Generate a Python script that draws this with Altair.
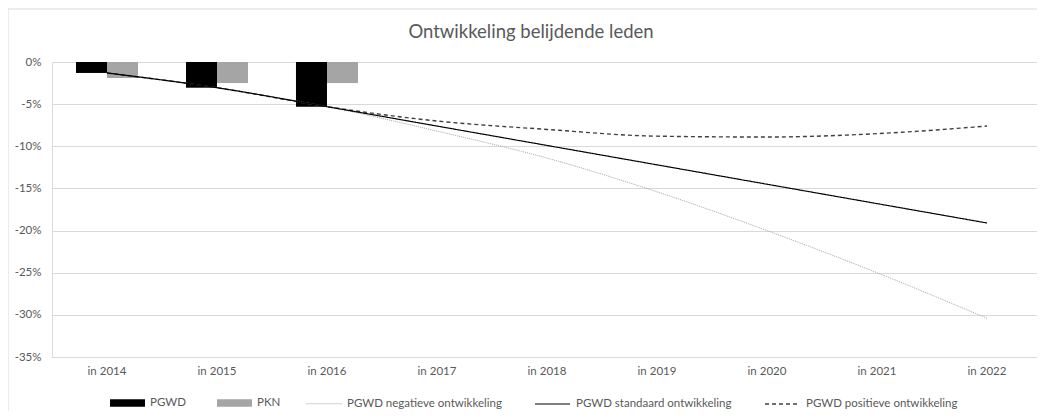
import altair as alt
import pandas as pd

title_text = "Ontwikkeling belijdende leden"
years = ["in 2014", "in 2015", "in 2016", "in 2017", "in 2018", "in 2019", "in 2020", "in 2021", "in 2022"]
bar_years = ["in 2014", "in 2015", "in 2016"]
pgwd = [-1.3, -3.05, -5.3]
pkn = [-1.9, -2.5, -2.5]

neg = [-1.3, -3.05, -5.3, -8.2, -11.4, -15.4, -20.0, -25.0, -30.4]
std = [-1.3, -3.05, -5.3, -7.6, -9.9, -12.2, -14.5, -16.8, -19.1]
pos = [-1.3, -3.05, -5.3, -7.0, -8.0, -8.8, -8.9, -8.5, -7.6]

bar_series = ["PGWD", "PKN"]
line_series = ["PGWD negatieve ontwikkeling", "PGWD standaard ontwikkeling", "PGWD positieve ontwikkeling"]
y_ticks = [0, -5, -10, -15, -20, -25, -30, -35]

bars = pd.DataFrame(
    [{"jaar": y, "reeks": "PGWD", "waarde": v} for y, v in zip(bar_years, pgwd)]
    + [{"jaar": y, "reeks": "PKN", "waarde": v} for y, v in zip(bar_years, pkn)]
)
lines = pd.DataFrame(
    [{"jaar": y, "reeks": line_series[0], "waarde": v, "ord": 0} for y, v in zip(years, neg)]
    + [{"jaar": y, "reeks": line_series[2], "waarde": v, "ord": 1} for y, v in zip(years, pos)]
    + [{"jaar": y, "reeks": line_series[1], "waarde": v, "ord": 2} for y, v in zip(years, std)]
)

FONT = "Lato"
TXT = "#595959"

xscale = alt.Scale(domain=years, range=[0, 990], paddingInner=0.436, paddingOuter=0.218)
yscale = alt.Scale(domain=[-35, 0], nice=False, zero=False)

x_enc = alt.X("jaar:N", scale=xscale, sort=years, title=None,
              axis=alt.Axis(labelAngle=0, ticks=False, domain=False, grid=False,
                            labelPadding=8, labelFontSize=11.5, labelColor=TXT, labelFont=FONT))
y_enc = alt.Y("waarde:Q", scale=yscale, title=None,
              axis=alt.Axis(values=y_ticks, labelExpr="datum.value + '%'", ticks=False, domain=False,
                            grid=True, gridColor="#d9d9d9", gridWidth=1,
                            labelPadding=11, labelFontSize=11.5, labelColor=TXT, labelFont=FONT))

bar_layer = alt.Chart(bars).mark_bar().encode(
    x=x_enc,
    y=y_enc,
    xOffset=alt.XOffset("reeks:N", sort=bar_series, scale=alt.Scale(domain=bar_series, paddingInner=0, paddingOuter=0)),
    fill=alt.Fill("reeks:N", sort=bar_series,
                  scale=alt.Scale(domain=bar_series, range=["#000000", "#a5a5a5"]),
                  legend=alt.Legend(title=None, orient="none", legendX=58, legendY=323.5,
                                    direction="horizontal", symbolType="M-1,-0.21H1V0.21H-1Z",
                                    symbolSize=1225, symbolStrokeWidth=0, columnPadding=31,
                                    labelOffset=5, labelFontSize=11.5, labelColor=TXT, labelFont=FONT,
                                    padding=0)),
)

line_legend = alt.Legend(title=None, orient="none", legendX=254, legendY=323.5,
                         direction="horizontal", symbolType="stroke", symbolSize=1225,
                         symbolStrokeWidth=1.3, columnPadding=30, labelOffset=5,
                         labelFontSize=11.5, labelColor=TXT, labelFont=FONT, padding=0)

line_layer = alt.Chart(lines).mark_line(interpolate="monotone").encode(
    x=x_enc,
    y=y_enc,
    stroke=alt.Stroke("reeks:N", sort=line_series,
                      scale=alt.Scale(domain=line_series, range=["#a6a6a6", "#000000", "#404040"]),
                      legend=line_legend),
    strokeDash=alt.StrokeDash("reeks:N", sort=line_series,
                              scale=alt.Scale(domain=line_series, range=[[1, 1], [1, 0], [4, 3]]),
                              legend=line_legend),
    strokeWidth=alt.StrokeWidth("reeks:N", sort=line_series,
                                scale=alt.Scale(domain=line_series, range=[1, 1.4, 1.6]), legend=None),
    order=alt.Order("ord:Q"),
)

one = pd.DataFrame({"a": [0]})
title_layer = alt.Chart(one).mark_text(
    font=FONT, fontSize=18.5, color=TXT, align="center", baseline="alphabetic"
).encode(text=alt.value(title_text), x=alt.value(479), y=alt.value(-24))

border_left = alt.Chart(one).mark_rule(color="#d9d9d9", strokeWidth=1).encode(
    x=alt.value(-44), y=alt.value(-53), y2=alt.value(360))
border_top = alt.Chart(one).mark_rule(color="#d9d9d9", strokeWidth=1).encode(
    x=alt.value(-44), x2=alt.value(990), y=alt.value(-53))

chart = alt.layer(bar_layer, line_layer, title_layer, border_left, border_top).properties(
    width=985,
    height=295,
    autosize=alt.AutoSizeParams(type="none"),
    padding={"left": 44, "top": 54, "right": 0, "bottom": 54},
).configure_view(stroke=None).configure(background="white")

chart.save("out.html", embed_options={"renderer": "svg", "actions": False})
